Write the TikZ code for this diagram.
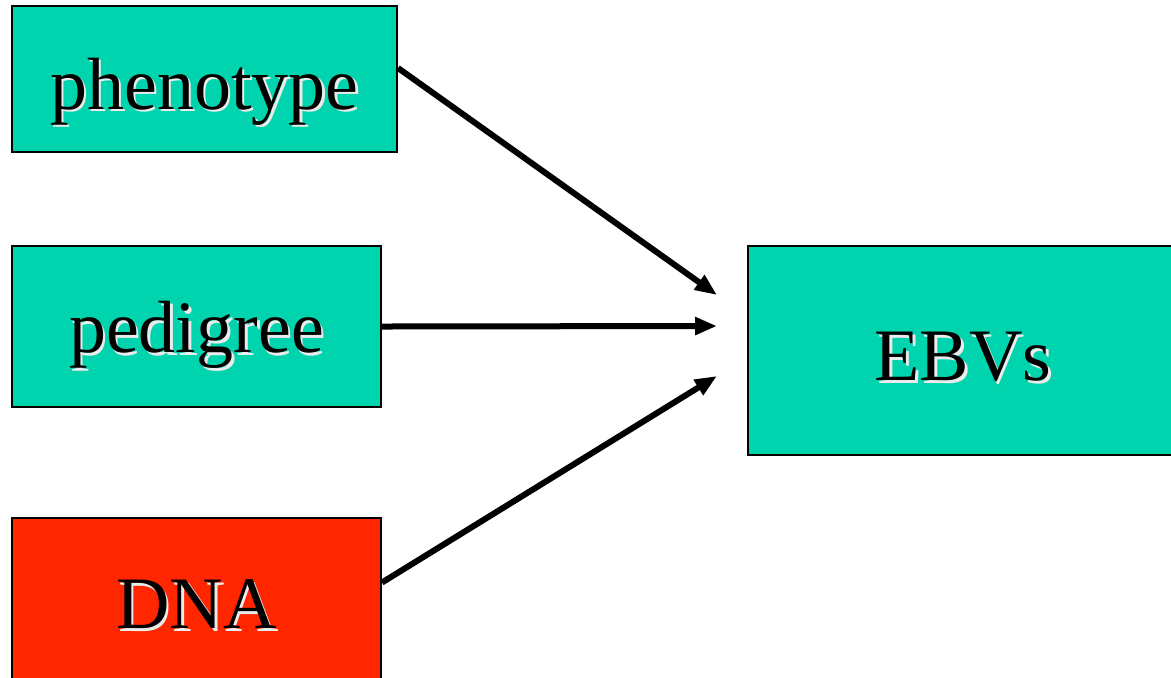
\documentclass[tikz,border=0pt]{standalone}
\usepackage{fontspec}
\setmainfont{Liberation Serif}
\usetikzlibrary{arrows.meta}
\definecolor{boxteal}{RGB}{0,212,174}
\definecolor{boxred}{RGB}{255,38,0}
\newcommand{\shtext}[2]{\raisebox{0pt}[\dimexpr\height+#1\relax][\depth]{\makebox[0pt][l]{\hspace{1.3pt}\raisebox{-1.3pt}{\color{white!92!black}#2}}#2}}
\begin{document}
\begin{tikzpicture}[x=0.5pt,y=-0.5pt,
  box/.style={draw=black, line width=1pt, inner sep=0pt, font=\fontsize{37}{44}\selectfont},
  conn/.style={line width=3pt, -{Triangle[length=11pt,width=8.5pt]}}]
\useasboundingbox (0,0) rectangle (1171,677);
\clip (0,0) rectangle (1171,677);
\node[box, fill=boxteal, minimum width=192.5pt, minimum height=73pt] (ph) at (204.5,79) {\shtext{14pt}{phenotype}};
\node[box, fill=boxteal, minimum width=184.5pt, minimum height=80.5pt] (pe) at (196.5,326.5) {\shtext{10pt}{pedigree}};
\node[box, fill=boxred, minimum width=184.5pt, minimum height=87.5pt] (dna) at (196.5,605.5) {\shtext{0pt}{DNA}};
\node[box, fill=boxteal, minimum width=215pt, minimum height=104.5pt] (ebv) at (963,350.5) {\shtext{8pt}{EBVs}};
\coordinate (t1) at (717,295);
\coordinate (t2) at (717,326);
\coordinate (t3) at (717,376);
\draw[conn] ([yshift=5.5pt]ph.east) -- (t1);
\draw[conn] (pe.east) -- (t2);
\draw[conn] ([yshift=11.5pt]dna.east) -- (t3);
\end{tikzpicture}
\end{document}
